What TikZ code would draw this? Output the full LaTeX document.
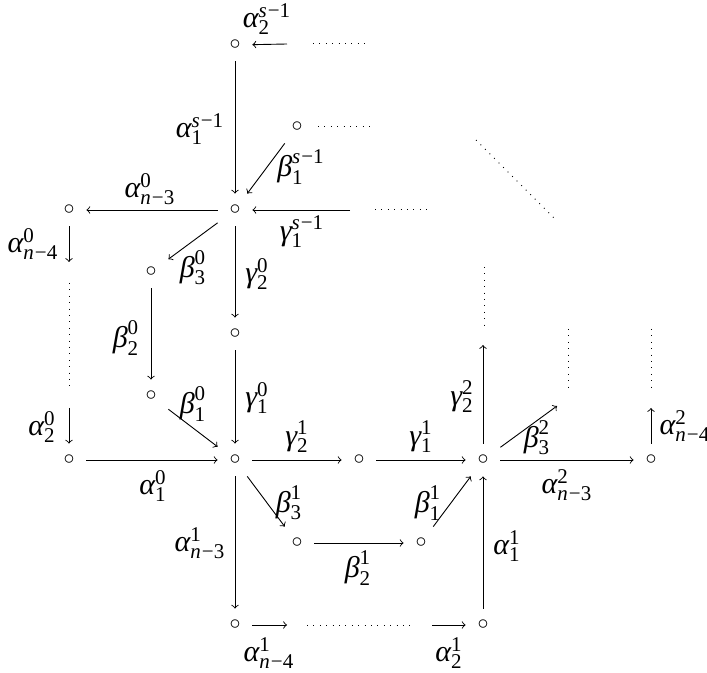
\documentclass[tikz,border=0pt]{standalone}
\usepackage{fontspec}
\setmainfont{Liberation Serif}
\newcommand{\scfont}{\fontsize{10.5}{12}\selectfont}
\newcommand{\Lb}[3]{$\mbox{\itshape #1}^{\mbox{\scfont #3}}_{\mbox{\scfont #2}}$}
\newcommand{\si}{\textit{s}\kern0.5pt−1}
\newcommand{\nn}[1]{\textit{n}\kern0.5pt−#1}
\tikzset{
  pt/.style={minimum width=17pt, minimum height=16pt, inner sep=0pt, font=\fontsize{11}{13}\selectfont},
  arr/.style={->, >=to, line width=0.45pt},
  dots/.style={dash pattern=on 0.45pt off 2.75pt, line width=0.5pt},
  lbl/.style={inner sep=0pt, font=\fontsize{15}{18}\selectfont},
}
\begin{document}
\begin{tikzpicture}[x=0.5pt,y=-0.5pt]
\useasboundingbox (0,0) rectangle (707,673);
% vertices
\node[pt] (A2s) at (235,45) {$\circ$};
\node[pt] (B1s) at (297,127) {$\circ$};
\node[pt] (C) at (235,210) {$\circ$};
\node[pt] (L) at (69,210) {$\circ$};
\node[pt] (B30) at (151,272) {$\circ$};
\node[pt] (G0) at (235,334) {$\circ$};
\node[pt] (B10) at (151,396) {$\circ$};
\node[pt] (LB) at (69,460) {$\circ$};
\node[pt] (M) at (235,460) {$\circ$};
\node[pt] (G) at (359,460) {$\circ$};
\node[pt] (R) at (483,460) {$\circ$};
\node[pt] (FR) at (651,460) {$\circ$};
\node[pt] (B31) at (297,543) {$\circ$};
\node[pt] (B11) at (421,543) {$\circ$};
\node[pt] (BL) at (235,625) {$\circ$};
\node[pt] (BR) at (483,625) {$\circ$};
% free ends
\coordinate (a2in) at (287,44);
\coordinate (cin) at (350,210);
\coordinate (rup) at (483,345);
\coordinate (b23) at (557,406);
\coordinate (frup) at (651,408);
\coordinate (ldown) at (69,262);
\coordinate (a20) at (69,408);
\coordinate (blout) at (287,625);
\coordinate (brin) at (432,625);
% dotted continuations
\coordinate (d1a) at (313,44);  \coordinate (d1b) at (370,44);
\coordinate (d2a) at (318,127); \coordinate (d2b) at (370,127);
\coordinate (d3a) at (375,210); \coordinate (d3b) at (432,210);
\coordinate (d4a) at (476,140); \coordinate (d4b) at (557,221);
\coordinate (d5a) at (69,283);  \coordinate (d5b) at (69,387);
\coordinate (d6a) at (484,267); \coordinate (d6b) at (484,327);
\coordinate (d7a) at (568,329); \coordinate (d7b) at (568,387);
\coordinate (d8a) at (651,329); \coordinate (d8b) at (651,387);
\coordinate (d9a) at (307,625); \coordinate (d9b) at (412,625);
\foreach \i in {1,...,9} \draw[dots] (d\i a) -- (d\i b);
% arrows
\draw[arr] (a2in) -- (A2s);
\draw[arr] (A2s) -- (C);
\draw[arr] (B1s) -- (C);
\draw[arr] (cin) -- (C);
\draw[arr] (C) -- (L);
\draw[arr] (L) -- (ldown);
\draw[arr] (a20) -- (LB);
\draw[arr] (LB) -- (M);
\draw[arr] (C) -- (B30);
\draw[arr] (B30) -- (B10);
\draw[arr] (B10) -- (M);
\draw[arr] (C) -- (G0);
\draw[arr] (G0) -- (M);
\draw[arr] (M) -- (G);
\draw[arr] (G) -- (R);
\draw[arr] (R) -- (rup);
\draw[arr] (R) -- (b23);
\draw[arr] (R) -- (FR);
\draw[arr] (FR) -- (frup);
\draw[arr] (M) -- (B31);
\draw[arr] (B31) -- (B11);
\draw[arr] (B11) -- (R);
\draw[arr] (M) -- (BL);
\draw[arr] (BL) -- (blout);
\draw[arr] (brin) -- (BR);
\draw[arr] (BR) -- (R);
% labels
\node[lbl] (l1) at (267,19) {\Lb{α}{2}{\si}};
\node[lbl] (l2) at (200,129) {\Lb{α}{1}{\si}};
\node[lbl] (l3) at (301,167) {\Lb{β}{1}{\si}};
\node[lbl] (l4) at (150,189) {\Lb{α}{\nn{3}}{0}};
\node[lbl] (l5) at (302,232) {\Lb{γ}{1}{\si}};
\node[lbl] (l6) at (33,244) {\Lb{α}{\nn{4}}{0}};
\node[lbl] (l7) at (193,268) {\Lb{β}{3}{0}};
\node[lbl] (l8) at (257,274) {\Lb{γ}{2}{0}};
\node[lbl] (l9) at (126,338) {\Lb{β}{2}{0}};
\node[lbl] (l10) at (257,398) {\Lb{γ}{1}{0}};
\node[lbl] (l11) at (193,404) {\Lb{β}{1}{0}};
\node[lbl] (l12) at (42,427) {\Lb{α}{2}{0}};
\node[lbl] (l13) at (153,486) {\Lb{α}{1}{0}};
\node[lbl] (l14) at (297,437) {\Lb{γ}{2}{1}};
\node[lbl] (l15) at (421,437) {\Lb{γ}{1}{1}};
\node[lbl] (l16) at (462,397) {\Lb{γ}{2}{2}};
\node[lbl] (l17) at (537,438) {\Lb{β}{3}{2}};
\node[lbl] (l18) at (685,426) {\Lb{α}{\nn{4}}{2}};
\node[lbl] (l19) at (567,485) {\Lb{α}{\nn{3}}{2}};
\node[lbl] (l20) at (289,503) {\Lb{β}{3}{1}};
\node[lbl] (l21) at (428,503) {\Lb{β}{1}{1}};
\node[lbl] (l22) at (200,543) {\Lb{α}{\nn{3}}{1}};
\node[lbl] (l23) at (507,546) {\Lb{α}{1}{1}};
\node[lbl] (l24) at (358,568) {\Lb{β}{2}{1}};
\node[lbl] (l25) at (269,653) {\Lb{α}{\nn{4}}{1}};
\node[lbl] (l26) at (449,653) {\Lb{α}{2}{1}};
\end{tikzpicture}
\end{document}
